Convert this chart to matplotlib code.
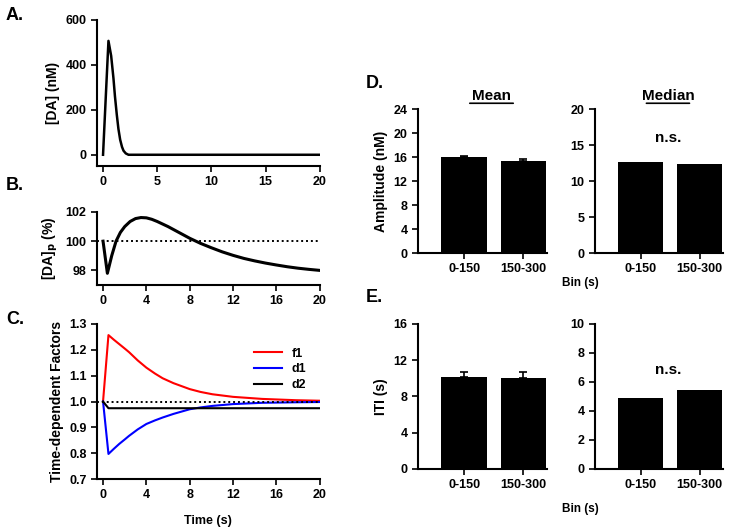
import matplotlib
matplotlib.use("Agg")
import matplotlib.pyplot as plt

plt.rcParams['font.family'] = ['Liberation Sans', 'DejaVu Sans']
plt.rcParams['font.weight'] = 'bold'
plt.rcParams['axes.labelweight'] = 'bold'
plt.rcParams['font.size'] = 9

# Panel A: dopamine pulse
t_a = [0, 0.25, 0.5, 0.75, 0.96, 1.1, 1.27, 1.42, 1.58, 1.75, 1.89, 2.1, 2.35, 20]
da_a = [0, 255, 507, 440, 341, 260, 178, 115, 67, 35, 18, 6, 0, 0]

# Panel B: [DA]p (%)
t_b = [0, 0.4, 0.8, 1.2, 1.6, 2.0, 2.5, 3.0, 3.5, 4.0, 4.5, 5, 6, 7, 8, 9, 10,
       11, 12, 13, 14, 15, 16, 17, 18, 19, 20]
da_b = [100, 97.8, 99.0, 100.0, 100.6, 101.0, 101.35, 101.55, 101.62, 101.6,
        101.5, 101.35, 101.0, 100.6, 100.2, 99.85, 99.55, 99.27, 99.03, 98.82,
        98.65, 98.5, 98.37, 98.25, 98.15, 98.07, 98.0]

# Panel C: time-dependent factors
t_c = [0, 0.5, 1.0, 1.5, 2.0, 2.4, 3.2, 4.0, 4.8, 5.5, 6.5, 8.0, 9.0, 10.1,
       12.0, 14.7, 17.8, 20]
f1 = [1.0, 1.257, 1.239, 1.222, 1.205, 1.191, 1.159, 1.131, 1.108, 1.09,
      1.071, 1.048, 1.037, 1.028, 1.018, 1.010, 1.005, 1.003]
d1 = [1.0, 0.797, 0.817, 0.836, 0.853, 0.867, 0.892, 0.913, 0.927, 0.938,
      0.952, 0.970, 0.977, 0.983, 0.990, 0.995, 0.997, 0.998]
d2 = [1.0, 0.974, 0.974, 0.974, 0.974, 0.974, 0.974, 0.974, 0.974, 0.974,
      0.974, 0.974, 0.974, 0.974, 0.974, 0.974, 0.974, 0.974]

# Panels D/E: bar charts
bins = ['0-150', '150-300']
amp_mean = [16.0, 15.3]
amp_err = [0.2, 0.3]
amp_median = [12.6, 12.3]
iti_mean = [10.15, 10.07]
iti_err = [0.6, 0.6]
iti_median = [4.88, 5.43]

fig = plt.figure(figsize=(7.5, 5.3), dpi=100)


def style(ax):
    for s in ['top', 'right']:
        ax.spines[s].set_visible(False)
    for s in ['left', 'bottom']:
        ax.spines[s].set_linewidth(1.5)
    ax.tick_params(direction='out', length=4, width=1.2, labelsize=9)


# A
axA = fig.add_axes([0.1293, 0.6868, 0.297, 0.2755])
axA.plot(t_a, da_a, color='black', lw=1.8)
axA.set_xlim(-0.56, 20)
axA.set_ylim(-50, 600)
axA.set_xticks([0, 5, 10, 15, 20])
axA.set_yticks([0, 200, 400, 600])
axA.set_ylabel('[DA] (nM)', fontsize=10)
style(axA)

# B
axB = fig.add_axes([0.1293, 0.4623, 0.297, 0.1377])
axB.plot(t_b, da_b, color='black', lw=2.2)
axB.axhline(100, color='black', lw=1.4, ls=(0, (1, 1.5)))
axB.set_xlim(-0.56, 20)
axB.set_ylim(97, 102)
axB.set_xticks([0, 4, 8, 12, 16, 20])
axB.set_yticks([98, 100, 102])
axB.set_ylabel('[DA]$_\\mathbf{p}$ (%)', fontsize=10)
style(axB)

# C
axC = fig.add_axes([0.1293, 0.0962, 0.297, 0.2925])
axC.plot(t_c, f1, color='#ff0000', lw=1.5, label='f1')
axC.plot(t_c, d1, color='#0000ff', lw=1.5, label='d1')
axC.plot(t_c, d2, color='black', lw=1.5, label='d2')
axC.axhline(1.0, color='black', lw=1.4, ls=(0, (1, 1.5)))
axC.set_xlim(-0.56, 20)
axC.set_ylim(0.7, 1.3)
axC.set_xticks([0, 4, 8, 12, 16, 20])
axC.set_yticks([0.7, 0.8, 0.9, 1.0, 1.1, 1.2, 1.3])
axC.set_ylabel('Time-dependent Factors', fontsize=10)
axC.set_xlabel('Time (s)', fontsize=9, labelpad=10)
axC.legend(loc='upper right', bbox_to_anchor=(0.99, 0.92), frameon=False,
           handlelength=2.2, labelspacing=0.3, fontsize=9)
style(axC)


def bar_panel(rect, vals, err, ylim, yticks, ylabel=None, ns=None):
    ax = fig.add_axes(rect)
    x = list(range(len(vals)))
    ax.bar(x, vals, width=0.77, color='black')
    if err is not None:
        ax.errorbar(x, vals, yerr=[[0] * len(err), err], fmt='none',
                    ecolor='black', elinewidth=1.2, capsize=3, capthick=1.2)
    ax.set_xlim(-0.78, 1.4)
    ax.set_ylim(*ylim)
    ax.set_yticks(yticks)
    ax.set_xticks(x)
    ax.set_xticklabels(bins)
    style(ax)
    if ylabel:
        ax.set_ylabel(ylabel, fontsize=10)
    if ns:
        ax.text(0.57, ns, 'n.s.', transform=ax.transAxes, ha='center',
                va='center', fontsize=11, fontweight='bold')
    return ax


axDm = bar_panel([0.5573, 0.5226, 0.172, 0.2717], amp_mean, amp_err, (0, 24),
                 [0, 4, 8, 12, 16, 20, 24], ylabel='Amplitude (nM)')
axDd = bar_panel([0.7933, 0.5226, 0.1707, 0.2717], amp_median, None, (0, 20),
                 [0, 5, 10, 15, 20], ns=0.8)
axEm = bar_panel([0.5573, 0.1151, 0.172, 0.2736], iti_mean, iti_err, (0, 16),
                 [0, 4, 8, 12, 16], ylabel='ITI (s)')
axEd = bar_panel([0.7933, 0.1151, 0.1707, 0.2736], iti_median, None, (0, 10),
                 [0, 2, 4, 6, 8, 10], ns=0.68)

# underlined titles
for ax, title in [(axDm, 'Mean'), (axDd, 'Median')]:
    ax.text(0.57, 1.045, title, transform=ax.transAxes, ha='center',
            va='bottom', fontsize=11, fontweight='bold')
    ax.annotate('', xy=(0.57 - 0.19, 1.04), xytext=(0.57 + 0.19, 1.04),
                xycoords='axes fraction',
                arrowprops=dict(arrowstyle='-', lw=1.2, color='black'))

fig.text(580 / 750, 1 - 283 / 530, 'Bin (s)', ha='center', va='center',
         fontsize=8.5, fontweight='bold')
fig.text(580 / 750, 1 - 509 / 530, 'Bin (s)', ha='center', va='center',
         fontsize=8.5, fontweight='bold')

# panel letters
for letter, (px, py) in {'A.': (6, 15), 'B.': (6, 185), 'C.': (6, 320),
                         'D.': (366, 84), 'E.': (366, 297)}.items():
    fig.text(px / 750, 1 - py / 530, letter, ha='left', va='center',
             fontsize=13, fontweight='bold')

fig.savefig('out.png', dpi=100)
